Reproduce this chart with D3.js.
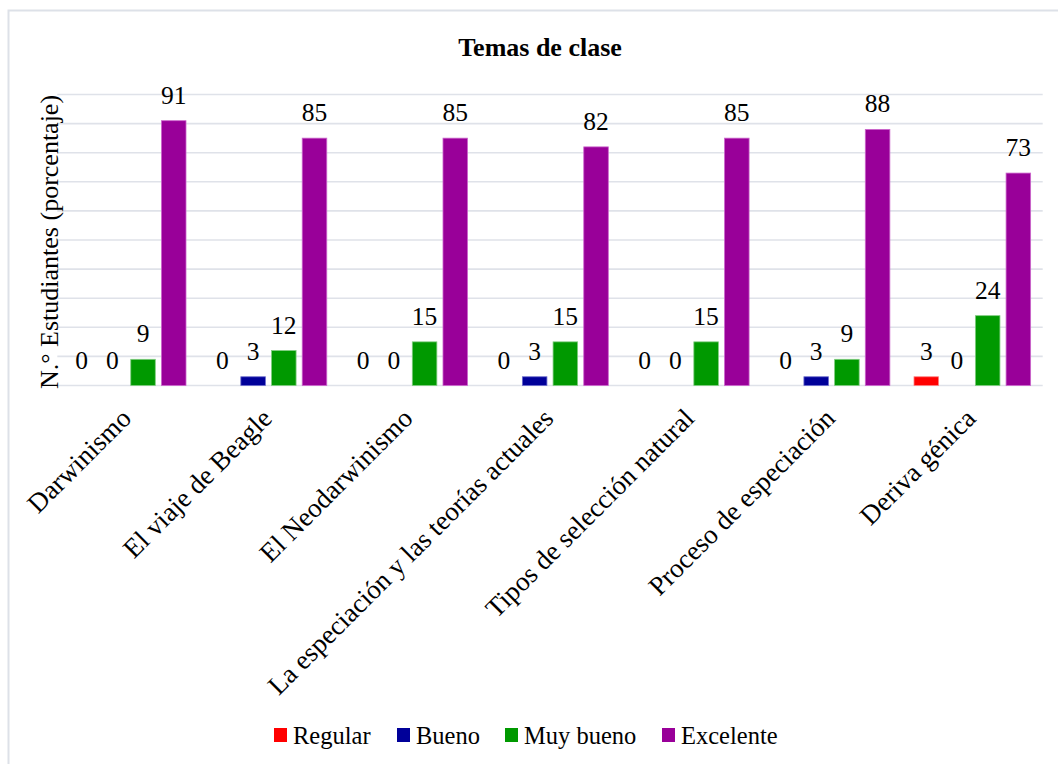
<!DOCTYPE html>
<html><head><meta charset="utf-8">
<script src="https://cdn.jsdelivr.net/npm/d3@7"></script>
<style>body{margin:0;background:#fff}svg{display:block}</style>
</head><body>
<svg id="c" width="1058" height="764"></svg>
<script>
const categories = ["Darwinismo","El viaje de Beagle","El Neodarwinismo","La especiación y las teorías actuales","Tipos de selección natural","Proceso de especiación","Deriva génica"];
const seriesNames = ["Regular","Bueno","Muy bueno","Excelente"];
const regular = [0,0,0,0,0,0,3];
const bueno = [0,3,0,3,0,3,0];
const muyBueno = [9,12,15,15,15,9,24];
const excelente = [91,85,85,82,85,88,73];
const colors = ["#ff0000","#000099","#009900","#990099"];
const strokes = ["#ff8080","#6a6acc","#80cc80","#cc66cc"];
const yTicks = [0,10,20,30,40,50,60,70,80,90,100];

const series = [regular, bueno, muyBueno, excelente];
const svg = d3.select("#c");
const font = "'Liberation Serif','Times New Roman',serif";

svg.append("rect").attr("x",8.5).attr("y",10.5).attr("width",1060).attr("height",770)
  .attr("fill","#fff").attr("stroke","#dde1e8").attr("stroke-width",2);

const L=57.3, R=1042.7, T=94.5, B=385.5;
const x = d3.scaleBand().domain(categories).range([L,R]).paddingInner(0).paddingOuter(0);
const x1 = d3.scaleBand().domain(seriesNames).range([9, x.bandwidth()-9]).paddingInner(0.2).paddingOuter(0.1);
const y = d3.scaleLinear().domain([0,100]).range([B,T]);

svg.append("g").selectAll("line").data(yTicks).join("line")
  .attr("x1",L).attr("x2",R).attr("y1",d=>y(d)).attr("y2",d=>y(d))
  .attr("stroke","#dfe2e9").attr("stroke-width",1.6);

svg.append("text").attr("x",540).attr("y",56).attr("text-anchor","middle")
  .attr("font-family",font).attr("font-weight","bold").attr("font-size",26).text("Temas de clase");

svg.append("text").attr("transform",`translate(58,242) rotate(-90)`).attr("text-anchor","middle")
  .attr("font-family",font).attr("font-size",26).attr("fill","#000").text("N.° Estudiantes (porcentaje)");

const g = svg.append("g");
categories.forEach((c,i)=>{
  seriesNames.forEach((s,j)=>{
    const v = series[j][i];
    const bx = x(c)+x1(s);
    if(v>0){
      g.append("rect").attr("x",bx).attr("y",y(v)).attr("width",x1.bandwidth()).attr("height",B-y(v))
        .attr("fill",colors[j]).attr("stroke",strokes[j]).attr("stroke-width",0.8);
    }
    g.append("text").attr("x",bx+x1.bandwidth()/2).attr("y",y(v)-17).attr("text-anchor","middle")
      .attr("font-family",font).attr("font-size",25.5).attr("fill","#000").text(v);
  });
});

// x axis labels
const xa = svg.append("g");
categories.forEach(c=>{
  const cx = x(c)+x.bandwidth()/2;
  xa.append("text").attr("transform",`translate(${cx+5},420) rotate(-45)`).attr("text-anchor","end")
    .attr("font-family",font).attr("font-size",27).attr("fill","#000").text(c);
});

// legend
const lx = [274,397,505,662];
seriesNames.forEach((s,j)=>{
  svg.append("rect").attr("x",lx[j]).attr("y",728).attr("width",13).attr("height",14).attr("fill",colors[j]);
  svg.append("text").attr("x",lx[j]+19).attr("y",744).attr("font-family",font).attr("font-size",24.5).attr("fill","#000").text(s);
});
</script>
</body></html>
